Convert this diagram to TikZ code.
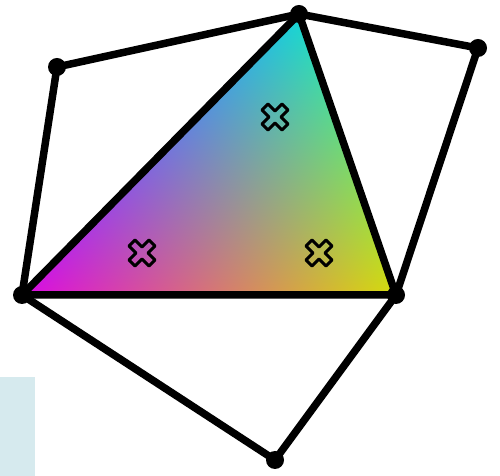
\documentclass[tikz,border=0pt]{standalone}
\usepackage{tikz}
\pgfdeclarefunctionalshading{trigrad}{\pgfpoint{0bp}{0bp}}{\pgfpoint{500bp}{476bp}}{}{
 181 sub 281 div exch 22 sub 374 div 1 index 0.740642 mul sub
 2 copy -0.02 mul exch -0.78 mul add 0.86 add 3 1 roll
 2 copy 0.82 mul exch 0.80 mul add 0.04 add 3 1 roll
 -0.84 mul exch -0.04 mul add 0.88 add
}
\definecolor{panelblue}{RGB}{214,234,238}
\tikzset{
  edge/.style={line width=7.5bp, line cap=round, line join=round, black},
  dot/.style={fill=black},
  pics/crossmark/.style={code={
    \draw[line width=3bp, line join=round, black]
      (0,6)--(7,13)--(13,7)--(6,0)--(13,-7)--(7,-13)--(0,-6)--(-7,-13)--(-13,-7)--(-6,0)--(-13,7)--(-7,13)--cycle;
  }}
}
\begin{document}
\begin{tikzpicture}[x=1bp,y=1bp]
\useasboundingbox (0,0) rectangle (500,476);
\fill[panelblue] (0,0) rectangle (35,99);
\coordinate (A) at (22,181);
\coordinate (B) at (299,462);
\coordinate (C) at (396,181);
\coordinate (P1) at (57,409);
\coordinate (P2) at (478,428);
\coordinate (P3) at (275,16);
\begin{scope}
  \clip (A) -- (B) -- (C) -- cycle;
  \pgftext[left,base,at=\pgfpointorigin]{\pgfuseshading{trigrad}}
\end{scope}
\pic at (275,359) {crossmark};
\pic at (142,223) {crossmark};
\pic at (319,223) {crossmark};
\draw[edge] (A) -- (P1) -- (B) -- (P2) -- (C) -- (P3) -- cycle;
\draw[edge] (A) -- (B) -- (C) -- cycle;
\foreach \p in {A,B,C,P1,P2,P3} \fill[dot] (\p) circle (9);
\end{tikzpicture}
\end{document}
